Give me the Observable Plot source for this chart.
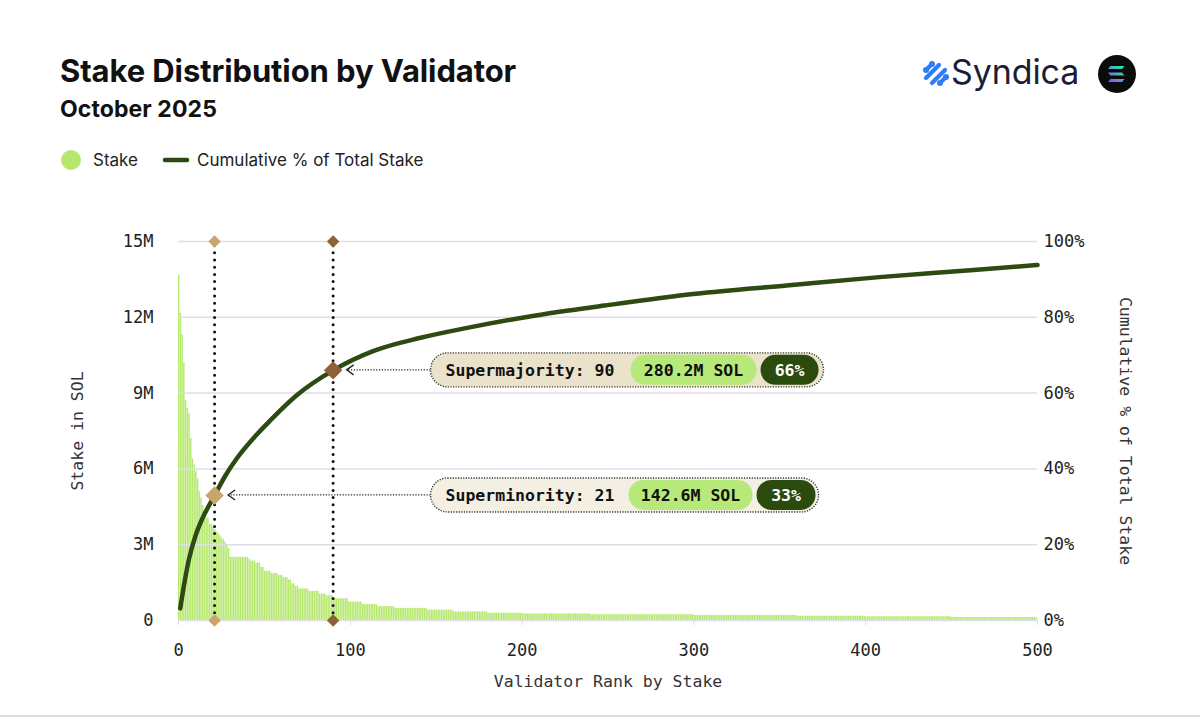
<!DOCTYPE html>
<html><head><meta charset="utf-8">
<script src="https://cdn.jsdelivr.net/npm/d3@7"></script>
<script src="https://cdn.jsdelivr.net/npm/@observablehq/plot@0.6"></script>
<style>
body{margin:0;background:#fff;}
#page{position:relative;width:1200px;height:719px;overflow:hidden;background:#fff;font-family:Inter,"Noto Sans",sans-serif;color:#111;}
.title{position:absolute;left:60px;top:55px;font-size:31px;line-height:31px;font-weight:700;letter-spacing:-0.1px;}
.subtitle{position:absolute;left:60px;top:98px;font-size:23px;line-height:23px;font-weight:700;letter-spacing:0.1px;}
.legend{position:absolute;top:150px;left:60px;height:22px;font-size:17px;line-height:20px;color:#222;}
.legend span{position:absolute;white-space:nowrap;}
.brand{position:absolute;left:951px;top:50px;font-size:34px;line-height:44px;font-weight:400;color:#1a1d3a;letter-spacing:-0.1px;}
#chart{position:absolute;left:0;top:190px;}
.bottomline{position:absolute;left:0;top:715px;width:1200px;height:2px;background:#dcdcdc;}
</style></head>
<body><div id="page">
<div class="title">Stake Distribution by Validator</div>
<div class="subtitle">October 2025</div>
<div class="legend">
  <svg style="position:absolute;left:0;top:0" width="140" height="22"><circle cx="11" cy="10" r="10" fill="#b6e86f"/><line x1="105" y1="10" x2="127" y2="10" stroke="#2d4a10" stroke-width="4.5" stroke-linecap="round"/></svg>
  <span style="left:33px;top:0">Stake</span>
  <span style="left:137px;top:0">Cumulative % of Total Stake</span>
</div>
<svg style="position:absolute;left:922px;top:60px" width="28" height="28" viewBox="0 0 28 28">
  <g stroke="#2f7df6" stroke-width="4.2" stroke-linecap="round" fill="none">
    <path d="M4 10 L10 4"/><path d="M4 18 L17 5"/><path d="M10 23 L23 10"/><path d="M18 23 L24 17"/>
  </g>
  <g fill="#2f7df6"><circle cx="4" cy="10" r="3"/><circle cx="10" cy="4" r="3"/><circle cx="24" cy="17" r="3"/><circle cx="18" cy="23" r="3"/></g>
</svg>
<div class="brand">Syndica</div>
<svg style="position:absolute;left:1097px;top:54px" width="40" height="40" viewBox="0 0 40 40">
  <defs><linearGradient id="sol" x1="0" y1="1" x2="1" y2="0"><stop offset="0" stop-color="#9945ff"/><stop offset="1" stop-color="#19fb9b"/></linearGradient></defs>
  <circle cx="20" cy="20" r="19" fill="#0b0b0b"/>
  <path d="M13.5 12 h14 l-2.5 3 h-14 z M11 18.5 h14 l2.5 3 h-14 z M13.5 25 h14 l-2.5 3 h-14 z" fill="url(#sol)"/>
</svg>
<div id="chart"></div>
<div class="bottomline"></div>
</div>
<script>
// ---- data ----
// Stake per validator, given as runs: last rank of each run and the stake (millions of SOL) of the validators in it
const stakeRankEnd = [1,2,3,4,5,6,7,8,9,10,11,12,13,14,15,16,18,20,21,22,23,24,25,26,27,28,29,30,41,42,45,48,50,54,58,61,64,66,68,70,76,82,86,90,99,107,116,126,145,160,180,200,240,300,360,400,450,500];
const stakeValueM  = [13.65,12.15,11.3,10.2,8.7,8.4,8.2,7.2,6.4,6.15,5.9,5.6,5.1,4.85,4.55,4.3,4.05,3.8,3.7,3.6,3.5,3.45,3.35,3.25,3.2,3.1,3.0,2.85,2.5,2.42,2.35,2.27,2.1,1.95,1.86,1.78,1.7,1.6,1.45,1.35,1.25,1.15,1.05,0.98,0.86,0.73,0.63,0.55,0.48,0.41,0.34,0.29,0.26,0.23,0.2,0.17,0.15,0.12];
// Cumulative % of total stake at sampled ranks
const cumRank = [1,3,6,10,14,21,27,34,45,53,69,90,114,141,168,208,248,301,354,408,461,500];
const cumPct  = [3.2,8.8,16,22.5,27,33,38.0,42.8,48.8,52.6,59.5,66,71.2,74.6,77.2,80.5,83.1,86.2,88.4,90.6,92.4,93.8];
// Thresholds
const thrNames = ["Superminority","Supermajority"];
const thrRank  = [21, 90];
const thrPct   = [33, 66];
const thrStake = ["142.6M SOL","280.2M SOL"];
// Axes
const xTicks = [0,100,200,300,400,500];
const yTicks = [0,3e6,6e6,9e6,12e6,15e6];
const yTickLabels = ["0","3M","6M","9M","12M","15M"];
const pctTickLabels = ["0%","20%","40%","60%","80%","100%"];
const yMax = 15e6;

// ---- tables built from the arrays ----
const bars = [];
let start = 1;
stakeRankEnd.forEach((end, i) => { for (let r = start; r <= end; r++) bars.push({rank: r, stake: stakeValueM[i] * 1e6}); start = end + 1; });
const cum = cumRank.map((r, i) => ({rank: r, pct: cumPct[i]}));
const thr = thrRank.map((r, i) => ({rank: r, pct: thrPct[i], name: thrNames[i], stake: thrStake[i], i}));
const thrColors = ["#c9a56e", "#8c6238"];
const pctToY = p => p / 100 * yMax;

const plot = Plot.plot({
  width: 1200, height: 520,
  marginLeft: 178, marginRight: 163, marginTop: 51, marginBottom: 90,
  style: {fontFamily: "'DejaVu Sans Mono', monospace", fontSize: "17px", color: "#222", overflow: "visible", background: "transparent"},
  x: {domain: [0, 500]},
  y: {domain: [0, yMax]},
  marks: [
    Plot.rectY(bars, {x1: d => d.rank - 1, x2: d => d.rank, y: "stake", fill: "#b6e86f", insetRight: 0.3}),
    Plot.ruleY(yTicks, {stroke: "#dedee6", strokeWidth: 1.5}),
    Plot.axisY(yTicks, {tickSize: 0, tickPadding: 25, tickFormat: (d, i) => yTickLabels[i], label: null}),
    Plot.axisY(yTicks, {anchor: "right", tickSize: 0, tickPadding: 6, tickFormat: (d, i) => pctTickLabels[i], label: null}),
    Plot.axisX(xTicks, {tickSize: 5, tickPadding: 18, stroke: "#dcdce2", fill: "#222", label: null}),
    Plot.text(["Validator Rank by Stake"], {frameAnchor: "bottom", dy: 66, text: d => d, fontSize: 16.5, fill: "#333"}),
    Plot.text(["Stake in SOL"], {frameAnchor: "left", textAnchor: "middle", dx: -101, rotate: -90, text: d => d, fontSize: 16.5, fill: "#333"}),
    Plot.text(["Cumulative % of Total Stake"], {frameAnchor: "right", textAnchor: "middle", dx: 88, rotate: 90, text: d => d, fontSize: 16.5, fill: "#333"}),
    Plot.line(cum, {x: "rank", y: d => pctToY(d.pct), stroke: "#2d4a10", strokeWidth: 4.5, curve: "monotone-x"}),
    Plot.ruleX(thr, {x: "rank", y1: 0, y2: yMax, stroke: "#111", strokeWidth: 3, strokeDasharray: "0 7.2", strokeLinecap: "round"}),
    Plot.dot(thr, {x: "rank", y: yMax, symbol: "diamond2", r: 5.6, fill: d => thrColors[d.i]}),
    Plot.dot(thr, {x: "rank", y: 0, symbol: "diamond2", r: 5.6, fill: d => thrColors[d.i]}),
    Plot.dot(thr, {x: "rank", y: d => pctToY(d.pct), symbol: "diamond2", r: 8.3, fill: d => thrColors[d.i]})
  ]
});
document.getElementById("chart").appendChild(plot);

// ---- annotation pills, placed with the plot's own scales ----
const sx = plot.scale("x"), sy = plot.scale("y");
const svg = d3.select(plot);
const ann = svg.append("g");
const pillStartRank = 147;
const outerFill = ["#f3efe3", "#ebe2cb"];
const outerW = [388, 393], greenX = [198, 200], greenW = [124, 126], darkX = [326, 330], darkW = [59, 58];
thr.forEach((d, k) => {
  const cx = sx.apply(d.rank), cy = sy.apply(pctToY(d.pct));
  const left = sx.apply(pillStartRank);
  ann.append("line").attr("x1", left).attr("x2", cx + 14).attr("y1", cy).attr("y2", cy)
    .attr("stroke", "#222").attr("stroke-width", 1.3).attr("stroke-dasharray", "1.2 1.6");
  ann.append("path").attr("d", `M${cx + 21},${cy - 5} L${cx + 14},${cy} L${cx + 21},${cy + 5}`)
    .attr("fill", "none").attr("stroke", "#222").attr("stroke-width", 1.3);
  ann.append("rect").attr("x", left).attr("y", cy - 17).attr("width", outerW[k]).attr("height", 34).attr("rx", 17)
    .attr("fill", outerFill[k]).attr("stroke", "#333").attr("stroke-width", 1.4).attr("stroke-dasharray", "1.2 1.4");
  ann.append("rect").attr("x", left + greenX[k]).attr("y", cy - 15).attr("width", greenW[k]).attr("height", 30).attr("rx", 15).attr("fill", "#b6e87a");
  ann.append("rect").attr("x", left + darkX[k]).attr("y", cy - 15).attr("width", darkW[k]).attr("height", 30).attr("rx", 15).attr("fill", "#2b4a0d");
  const t = (x, txt, fill, anchor) => ann.append("text").attr("x", x).attr("y", cy).attr("dy", "0.36em")
    .attr("text-anchor", anchor).attr("fill", fill).attr("font-family", "'DejaVu Sans Mono', monospace")
    .attr("font-weight", 700).attr("font-size", 16.5).text(txt);
  t(left + 15, `${d.name}: ${d.rank}`, "#111", "start");
  t(left + greenX[k] + greenW[k] / 2, d.stake, "#111", "middle");
  t(left + darkX[k] + darkW[k] / 2, `${d.pct}%`, "#fff", "middle");
});
</script>
</body></html>
